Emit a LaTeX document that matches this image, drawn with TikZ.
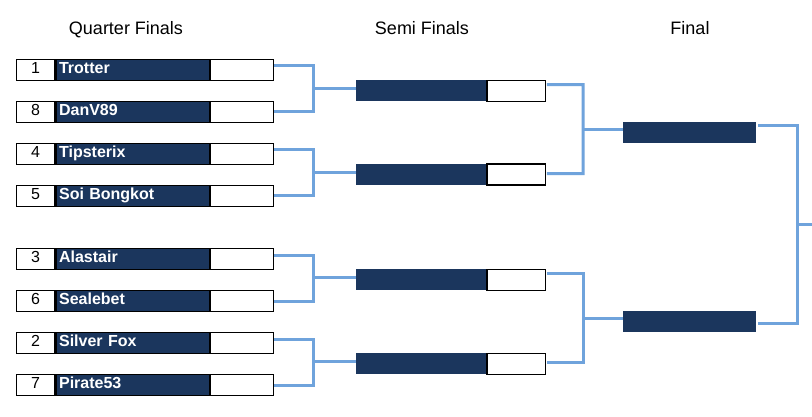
\documentclass[tikz,border=0pt]{standalone}
\usepackage{fontspec}
\setmainfont{Liberation Sans}
\definecolor{navy}{RGB}{27,54,93}
\definecolor{connblue}{RGB}{111,163,220}
\begin{document}
\begin{tikzpicture}[x=1pt,y=-1pt,
  box/.style={draw=black,line width=1.2pt,minimum height=21pt,inner ysep=0pt,
    text height=14pt,text depth=7pt,anchor=west,font=\fontsize{16}{18}\selectfont},
  seedbox/.style={box,fill=white,inner xsep=0pt,minimum width=38.6pt},
  namebox/.style={box,fill=navy,text=white,inner xsep=3pt,text width=147.4pt,align=left,
    font=\fontsize{16}{18}\selectfont\bfseries},
  scorebox/.style={box,fill=white,inner xsep=0pt,minimum width=62.6pt},
  semibox/.style={fill=navy,minimum height=21pt,minimum width=130pt,inner sep=0pt,anchor=west},
  semiscore/.style={draw=black,line width=1.2pt,fill=white,minimum height=21pt,minimum width=58.3pt,inner sep=0pt,anchor=west},
  finalbox/.style={fill=navy,minimum height=21pt,minimum width=133pt,inner sep=0pt,anchor=west},
  conn/.style={draw=connblue,line width=3pt},
  head/.style={font=\fontsize{18}{20}\selectfont,anchor=base,inner sep=0pt}
]
\useasboundingbox (0,0) rectangle (812,417);
\fill[white] (0,0) rectangle (812,417);

% headings
\node[head] (h1) at (126,34.5) {Quarter Finals};
\node[head] (h2) at (422,34.5) {Semi Finals};
\node[head] (h3) at (690,34.5) {Final};

% quarter finals -> semis (brackets)
\foreach \a/\b in {70/112,154/196,259/301,343/385}{
  \draw[conn] (271,\a-4) -- (313,\a-4) -- (313,\b) -- (271,\b);
}

% quarter final rows
\foreach \i/\y/\seed/\name in {1/70/1/Trotter,2/112/8/DanV89,3/154/4/Tipsterix,4/196/5/Soi Bongkot,
  5/259/3/Alastair,6/301/6/Sealebet,7/343/2/Silver Fox,8/385/7/Pirate53}{
  \node[seedbox] (s\i) at (15.7,\y) {\seed};
  \node[namebox] (n\i) at (s\i.east) {\name};
  \node[scorebox] (w\i) at (n\i.east) {};
}

% semi finals
\foreach \i/\y in {1/90.7,2/174.5,3/279.7,4/363.7}{
  \node[semibox] (m\i) at (356,\y) {};
  \node[semiscore] (ms\i) at (m\i.east) {};
}

% finals
\node[finalbox] (f1) at (623,132.3) {};
\node[finalbox] (f2) at (623,321.3) {};

% QF joins into semis
\draw[conn] ([yshift=2pt]m1.west) -- ++(-44,0);
\draw[conn] ([yshift=2pt]m2.west) -- ++(-44,0);
\draw[conn] ([yshift=2pt]m3.west) -- ++(-44,0);
\draw[conn] ([yshift=2pt]m4.west) -- ++(-44,0);

% semis -> finals
\draw[conn] ([xshift=1pt,yshift=6pt]ms1.east) -- (583,84.7) -- (583,173.7) -- ([xshift=1pt,yshift=1pt]ms2.east);
\draw[conn] ([xshift=1pt,yshift=6.4pt]ms3.east) -- (583,273.3) -- (583,362.7) -- ([xshift=1pt,yshift=1pt]ms4.east);
\draw[conn] ([yshift=3pt]f1.west) -- ++(-41.5,0);
\draw[conn] ([yshift=3pt]f2.west) -- ++(-41.5,0);

% finals -> winner
\coordinate (out) at (812,225);
\draw[conn] ([xshift=2pt,yshift=7pt]f1.east) -- (797,125.3) -- (797,323.3) -- ([xshift=2pt,yshift=-2pt]f2.east);
\draw[conn] (797,225) -- (out);
\end{tikzpicture}
\end{document}
